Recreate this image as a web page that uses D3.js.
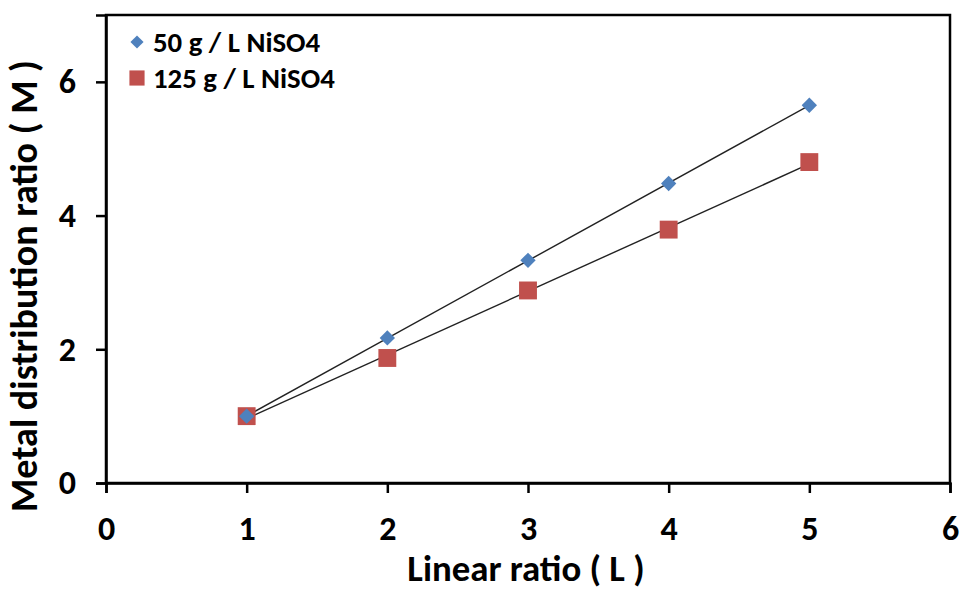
<!DOCTYPE html>
<html lang="en">
<head>
  <meta charset="UTF-8">
  <title>Metal distribution ratio</title>
  <script src="https://d3js.org/d3.v7.min.js"></script>
  <style>
    body { margin: 0; background: #fff; }
    text { font-family: Carlito, "Open Sans", sans-serif; font-weight: bold; fill: #000; }
  </style>
</head>
<body>
  <div id="chart"></div>
  <script>
    // Data
    const ratioL = [1, 2, 3, 4, 5];
    const series50 = [1.0, 2.17, 3.33, 4.48, 5.65];   // 50 g / L NiSO4
    const series125 = [1.0, 1.87, 2.88, 3.79, 4.8];   // 125 g / L NiSO4
    const xTicks = [0, 1, 2, 3, 4, 5, 6];
    const yTicks = [0, 2, 4, 6];
    const legendLabels = ["50 g / L NiSO4", "125 g / L NiSO4"];

    const W = 961, H = 591;
    const margin = { top: 15, right: 11, bottom: 108, left: 106 };
    const width = W - margin.left - margin.right;
    const height = H - margin.top - margin.bottom;

    const svg = d3.select("#chart").append("svg")
      .attr("width", W).attr("height", H);
    const g = svg.append("g").attr("transform", `translate(${margin.left},${margin.top})`);

    const x = d3.scaleLinear().domain([0, 6]).range([0, width]);
    const y = d3.scaleLinear().domain([0, 7]).range([height, 0]);

    // shrink/grow a text element's font so it spans the wanted width
    function fitWidth(sel, target) {
      const fs = parseFloat(sel.style("font-size"));
      const w = sel.node().getComputedTextLength();
      sel.style("font-size", (fs * target / w).toFixed(1) + "px");
    }

    // frame
    g.append("rect")
      .attr("width", width).attr("height", height)
      .attr("fill", "none").attr("stroke", "#000").attr("stroke-width", 2.5);

    // axes
    const xAxis = g.append("g").attr("transform", `translate(0,${height})`)
      .call(d3.axisBottom(x).tickValues(xTicks).tickSize(10).tickPadding(23).tickFormat(d3.format("d")));
    const yAxis = g.append("g")
      .call(d3.axisLeft(y).tickValues(yTicks).tickSize(10).tickPadding(20).tickFormat(d3.format("d")));
    [xAxis, yAxis].forEach(a => {
      a.select(".domain").attr("stroke", "#000").attr("stroke-width", 2.5);
      a.selectAll(".tick line").attr("stroke", "#000").attr("stroke-width", 2.5);
      a.selectAll(".tick text").style("font-size", "34px");
    });

    // least-squares trend line from the points
    function fit(xs, ys) {
      const mx = d3.mean(xs), my = d3.mean(ys);
      const slope = d3.sum(xs, (v, i) => (v - mx) * (ys[i] - my)) / d3.sum(xs, v => (v - mx) ** 2);
      return v => my + slope * (v - mx);
    }
    const xr = d3.extent(ratioL);
    [series50, series125].forEach(s => {
      const f = fit(ratioL, s);
      g.append("line")
        .attr("x1", x(xr[0])).attr("y1", y(f(xr[0])))
        .attr("x2", x(xr[1])).attr("y2", y(f(xr[1])))
        .attr("stroke", "#222").attr("stroke-width", 1.4);
    });

    const sym125 = d3.symbol().type(d3.symbolSquare).size(320);
    const sym50 = d3.symbol().type(d3.symbolDiamond2).size(150);

    // squares first, diamonds on top
    g.selectAll(".sq").data(series125).enter().append("path")
      .attr("transform", (d, i) => `translate(${x(ratioL[i])},${y(d)})`)
      .attr("d", sym125).attr("fill", "#C0504D");
    g.selectAll(".dm").data(series50).enter().append("path")
      .attr("transform", (d, i) => `translate(${x(ratioL[i])},${y(d)})`)
      .attr("d", sym50).attr("fill", "#4F81BD");

    // legend
    const leg = g.append("g").attr("transform", "translate(31,0)");
    leg.append("path").attr("transform", "translate(0,27)").attr("d", d3.symbol().type(d3.symbolDiamond2).size(110)).attr("fill", "#4F81BD");
    leg.append("path").attr("transform", "translate(0,63)").attr("d", d3.symbol().type(d3.symbolSquare).size(230)).attr("fill", "#C0504D");
    const legText = leg.selectAll(".lt").data(legendLabels).enter().append("text")
      .attr("x", 16).attr("y", (d, i) => 27 + i * 36).attr("dy", "0.35em")
      .style("font-size", "22px").text(d => d);
    fitWidth(legText.filter((d, i) => i === 0), 167);
    legText.style("font-size", legText.filter((d, i) => i === 0).style("font-size"));

    // axis titles
    const xTitle = svg.append("text")
      .attr("x", 526).attr("y", 581)
      .attr("text-anchor", "middle").style("font-size", "25px")
      .text("Linear ratio ( L )");
    fitWidth(xTitle, 237);
    const yTitle = svg.append("text")
      .attr("transform", `translate(37,286) rotate(-90)`)
      .attr("text-anchor", "middle").style("font-size", "25px")
      .text("Metal distribution ratio ( M )");
    fitWidth(yTitle, 452);
  </script>
</body>
</html>
